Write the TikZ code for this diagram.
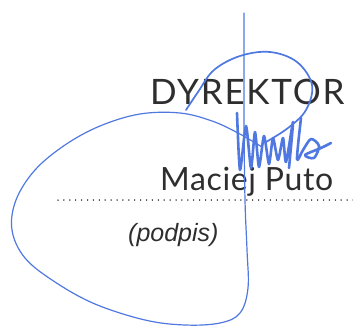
\documentclass[tikz,border=0pt]{standalone}
\usepackage{fontspec}
\setmainfont{Liberation Sans}
\newfontfamily\titlefont[LetterSpace=5]{Lato}
\newfontfamily\namefont[LetterSpace=2]{Lato}
\usetikzlibrary{positioning,calc}
\definecolor{ink}{RGB}{80,120,225}

\begin{document}
\begin{tikzpicture}[x=1pt, y=-1pt,
    pen/.style={draw=ink, line width=1.2pt, line cap=round, line join=round},
    scribble/.style={pen, line width=2.6pt},
    printed/.style={inner sep=0pt, text=black!82}]
    \useasboundingbox (0,0) rectangle (353,326);

    % Title and name
    \node[printed, anchor=base west] (title) at (150,105) {\titlefont\fontsize{35}{35}\selectfont DYREKTOR};
    \node[printed, anchor=base west] (name) at (160,190) {\namefont\fontsize{32}{32}\selectfont Maciej Puto};

    % Dotted line
    \coordinate (lineL) at (58,200);
    \coordinate (lineR) at (353,200);
    \draw[line width=1.5pt, dash pattern=on 0pt off 5.9pt, line cap=round] (lineL) -- (lineR);

    % Caption
    \node[printed, anchor=base west] (caption) at (128,241) {\fontsize{25}{25}\selectfont\itshape (podpis)};

    % Big loop, down the stem and round to the flourish
    \draw[pen] plot[smooth, tension=0.6] coordinates {(244,13) (244,120) (245,200) (247,250) (248,288) (240,313) (220,323) (185,325) (145,320) (95,304) (55,282) (25,258) (12,230) (16,200) (35,170) (65,145) (100,126) (140,114) (180,113) (212,121) (238,133) (262,147)};

    % Oval over the title
    \draw[pen, line width=1.7pt] plot[smooth, tension=0.6] coordinates {(186,110) (198,92) (214,70) (240,56) (270,52) (297,62) (312,85) (306,110) (288,128) (266,142)};

    % Scribble
    \draw[scribble] plot[smooth, tension=0.4] coordinates {(237,113) (240,170) (246,126) (251,168) (255,132) (259,167) (264,136) (269,164) (273,138) (278,160) (283,138) (286,162) (293,122) (289,168)};
    \draw[scribble] plot[smooth, tension=0.5] coordinates {(301,118) (297,159) (303,150) (311,139) (319,146) (314,158) (305,155) (321,148) (331,143)};
\end{tikzpicture}
\end{document}
